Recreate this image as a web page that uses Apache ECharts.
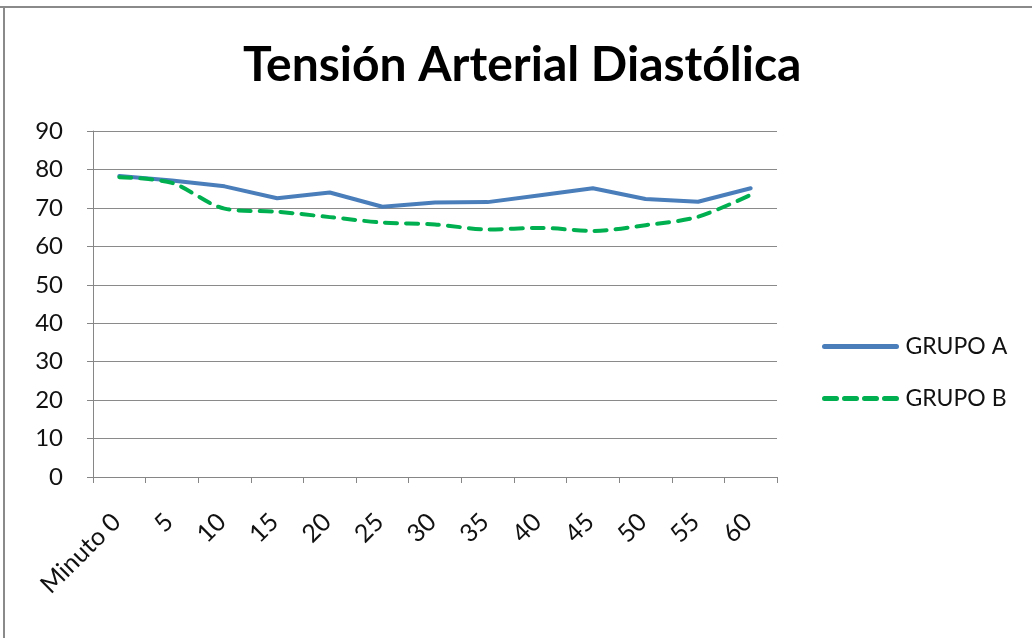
<!DOCTYPE html>
<html><head><meta charset="utf-8">
<script src="https://cdn.jsdelivr.net/npm/echarts@6/dist/echarts.min.js"></script>
<style>html,body{margin:0;padding:0;background:#fff}#c{width:1032px;height:638px}</style>
</head><body><div id="c"></div>
<script>
const categories = ['Minuto 0','5','10','15','20','25','30','35','40','45','50','55','60'];
const grupoA = [78.3, 77.1, 75.6, 72.5, 74.0, 70.3, 71.4, 71.5, 73.3, 75.1, 72.3, 71.6, 75.1];
const grupoB = [78.0, 76.5, 69.8, 69.0, 67.6, 66.2, 65.7, 64.4, 64.8, 64.0, 65.5, 67.7, 73.4];
const yTicks = [0, 90, 10];
const FONT = 'Lato';
const chart = echarts.init(document.getElementById('c'), null, {renderer:'canvas'});
chart.setOption({
  animation:false,
  backgroundColor:'#fff',
  title:{text:'Tensión Arterial Diastólica', left:243, top:42, padding:0,
    textStyle:{fontFamily:FONT, fontWeight:'bold', fontSize:48, color:'#000'}},
  grid:{left:93, right:255, top:131, bottom:161, containLabel:false},
  legend:{orient:'vertical', left:822, top:335, padding:0, itemWidth:72, itemHeight:14, itemGap:29,
    itemStyle:{opacity:0},
    textStyle:{fontFamily:FONT, fontSize:23, color:'#111', padding:[0,0,0,4]},
    data:[
      {name:'GRUPO A', lineStyle:{width:5, color:'#4A7EBB', cap:'round'}},
      {name:'GRUPO B', lineStyle:{width:5, color:'#00B050', type:[12,8], cap:'round'}}
    ]},
  xAxis:{type:'category', data:categories, boundaryGap:true,
    axisLine:{lineStyle:{color:'#868686', width:1}},
    axisTick:{show:true, length:6, lineStyle:{color:'#868686'}},
    axisLabel:{rotate:45, margin:38, fontFamily:FONT, fontSize:25, color:'#111', interval:0,
      padding:[0,4,0,0]}},
  yAxis:{type:'value', min:yTicks[0], max:yTicks[1], interval:yTicks[2],
    axisLine:{show:true, lineStyle:{color:'#868686'}},
    axisTick:{show:true, length:6, lineStyle:{color:'#868686'}},
    splitLine:{lineStyle:{color:'#8a8a8a', width:1}},
    axisLabel:{margin:30, fontFamily:FONT, fontSize:24, color:'#111'}},
  series:[
    {name:'GRUPO A', type:'line', data:grupoA, symbol:'none', smooth:false,
      itemStyle:{color:'#4A7EBB'}, lineStyle:{color:'#4A7EBB', width:4, cap:'round', join:'round'}},
    {name:'GRUPO B', type:'line', data:grupoB, symbol:'none', smooth:0.3,
      itemStyle:{color:'#00B050'}, lineStyle:{color:'#00B050', width:4, type:[12,9], cap:'round', join:'round'}}
  ],
  graphic:[
    {type:'line', shape:{x1:0, y1:7, x2:1032, y2:7}, style:{stroke:'#8a8a8a', lineWidth:2}},
    {type:'line', shape:{x1:4, y1:6, x2:4, y2:638}, style:{stroke:'#8a8a8a', lineWidth:2}}
  ]
});
</script></body></html>
